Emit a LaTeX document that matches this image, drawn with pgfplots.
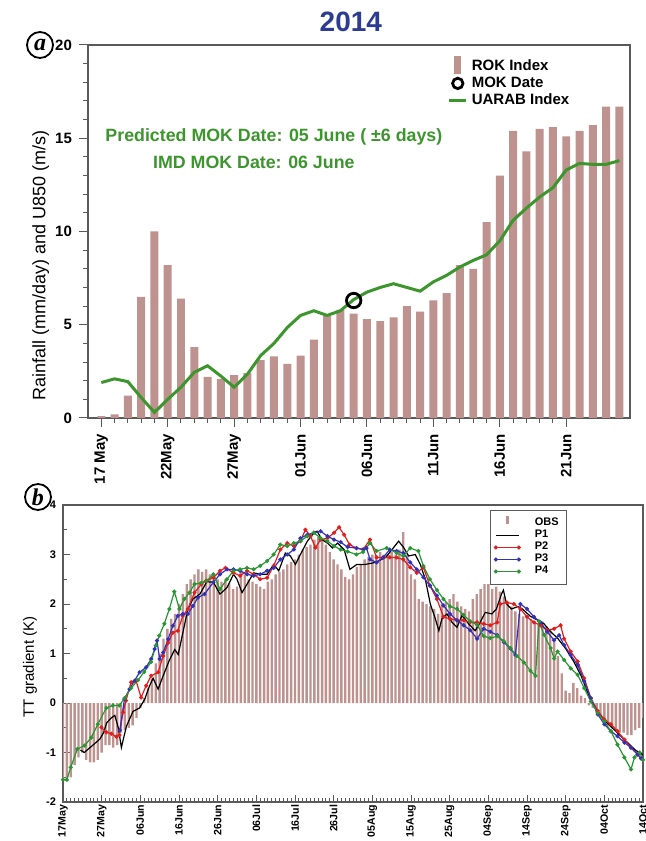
\documentclass[border=0pt]{standalone}
\usepackage{pgfplots}
\pgfplotsset{compat=1.18}
\usepackage{fontspec}
\setmainfont{Liberation Sans}
\newfontfamily\serifit{Liberation Serif}
\definecolor{barc}{RGB}{190,146,142}
\definecolor{gline}{RGB}{60,150,45}
\definecolor{tblue}{RGB}{45,60,145}
\definecolor{p2c}{RGB}{225,30,30}
\definecolor{p3c}{RGB}{50,50,185}
\definecolor{p4c}{RGB}{40,150,50}
\definecolor{framec}{RGB}{90,90,90}
\begin{document}
\begin{tikzpicture}
\useasboundingbox (0,0) rectangle (323pt,420.5pt);
% ---------------- panel a ----------------
\begin{axis}[
 at={(44pt,211.5pt)}, anchor=south west, scale only axis, width=271pt, height=186.5pt,
 xmin=-1, xmax=39.8, ymin=0, ymax=20, clip=false,
 axis line style={framec, line width=0.6pt},
 tick align=outside, xtick pos=bottom, ytick pos=left,
 xtick={0,5,...,35}, xticklabels={17 May,22May,27May,01Jun,06Jun,11Jun,16Jun,21Jun},
 minor x tick num=4,
 ytick={0,5,10,15,20}, minor y tick num=4,
 major tick length=4.5pt, minor tick length=2.5pt,
 every tick/.style={framec, line width=0.5pt},
 x tick label style={rotate=90, anchor=east, font=\bfseries\fontsize{7.5}{8}\selectfont},
 y tick label style={font=\bfseries\fontsize{7.5}{8}\selectfont},
 /pgf/number format/assume math mode=true,
 ylabel={Rainfall (mm/day) and U850 (m/s)},
 ylabel style={at={(axis description cs:-0.087,0.41)}, anchor=center, font=\fontsize{9}{10}\selectfont},
 legend style={draw=none, fill=none, at={(rel axis cs:0.652,0.983)}, anchor=north west, font=\bfseries\fontsize{7.5}{8.5}\selectfont, row sep=-2.5pt},
 legend cell align=left,
]
\addplot[ybar, bar width=0.6, fill=barc, draw=none,
 legend image code/.code={\fill[barc] (2.5pt,-3.5pt) rectangle (6pt,5.5pt);}]
 coordinates {(0,0.1) (1,0.2) (2,1.2) (3,6.5) (4,10.0) (5,8.2) (6,6.4) (7,3.8) (8,2.2) (9,2.1)
 (10,2.3) (11,2.4) (12,3.1) (13,3.3) (14,2.9) (15,3.35) (16,4.2) (17,5.5) (18,5.8) (19,5.6)
 (20,5.3) (21,5.2) (22,5.4) (23,6.0) (24,5.7) (25,6.3) (26,6.7) (27,8.2) (28,8.0) (29,10.5)
 (30,13.0) (31,15.4) (32,14.3) (33,15.5) (34,15.6) (35,15.1) (36,15.4) (37,15.7) (38,16.7) (39,16.7)};
\addlegendentry{ROK Index}
\addplot[gline, line width=1.5pt, forget plot]
 coordinates {(0,1.9) (1,2.1) (2,1.95) (3,1.1) (4,0.3) (5,1.0) (6,1.65) (7,2.45) (8,2.8) (9,2.25)
 (10,1.65) (11,2.35) (12,3.35) (13,4.0) (14,4.85) (15,5.5) (16,5.75) (17,5.5) (18,5.75) (19,6.35)
 (20,6.75) (21,7.0) (22,7.2) (23,7.0) (24,6.8) (25,7.3) (26,7.65) (27,8.1) (28,8.45) (29,8.75)
 (30,9.5) (31,10.6) (32,11.25) (33,11.85) (34,12.35) (35,13.3) (36,13.65) (37,13.6) (38,13.6) (39,13.8)};
\addplot[only marks, mark=o, mark size=3.6pt, line width=1.4pt, black,
 legend image code/.code={\draw[black, line width=1.4pt] (4.25pt,0pt) circle (2.6pt);}]
 coordinates {(19,6.3)};
\addlegendentry{MOK Date}
\addlegendimage{gline, line width=1.5pt, legend image code/.code={\draw[gline, line width=1.5pt] (0pt,0pt) -- (8.5pt,0pt);}}
\addlegendentry{UARAB Index}
\node[text=gline, font=\bfseries\fontsize{8.9}{10}\selectfont] at (rel axis cs:0.343,0.753) {Predicted MOK Date: 05 June ( ±6 days)};
\node[text=gline, font=\bfseries\fontsize{8.9}{10}\selectfont] at (rel axis cs:0.306,0.686) {IMD MOK Date: 06 June};
\node[text=tblue, font=\bfseries\fontsize{14}{16}\selectfont, yshift=11.5pt] at (rel axis cs:0.485,1) {2014};
\end{axis}
% ---------------- panel b ----------------
\begin{axis}[
 at={(31.5pt,19.5pt)}, anchor=south west, scale only axis, width=290pt, height=148.5pt,
 xmin=0, xmax=150, ymin=-2, ymax=4,
 axis line style={framec, line width=0.6pt},
 tick align=inside, xtick pos=bottom, ytick pos=left,
 xtick={0,10,...,150},
 xticklabels={17May,27May,06Jun,16Jun,26Jun,06Jul,16Jul,26Jul,05Aug,15Aug,25Aug,04Sep,14Sep,24Sep,04Oct,14Oct},
 minor x tick num=9,
 ytick={-2,-1,0,1,2,3,4}, minor y tick num=1,
 major tick length=3.5pt, minor tick length=2pt,
 every tick/.style={framec, line width=0.45pt},
 x tick label style={rotate=90, anchor=east, inner sep=1.2pt, font=\bfseries\fontsize{5.3}{6}\selectfont},
 y tick label style={font=\bfseries\fontsize{5.5}{6}\selectfont},
 /pgf/number format/assume math mode=true,
 ylabel={TT gradient (K)},
 ylabel style={at={(axis description cs:-0.057,0.455)}, anchor=center, font=\fontsize{7.5}{8}\selectfont},
 legend style={draw=framec, fill=white, at={(rel axis cs:0.736,0.983)}, anchor=north west, font=\bfseries\fontsize{5.5}{5.8}\selectfont, row sep=-3.3pt, inner sep=1.8pt,
   /tikz/every odd column/.append style={column sep=5pt}},
 legend cell align=left,
]
\addplot[ybar, bar width=0.62, fill=barc, draw=none,
 legend image code/.code={\fill[barc] (5pt,-0.5pt) rectangle (6.5pt,3.5pt);}]
 coordinates {(0,-1.55) (1,-1.55) (2,-1.5) (3,-1.25) (4,-1.1) (5,-1.0) (6,-1.15) (7,-1.2) (8,-1.2) (9,-1.15)
 (10,-1.0) (11,-0.85) (12,-0.85) (13,-0.9) (14,-0.85) (15,-0.6) (16,-0.55) (17,-0.5) (18,-0.45) (19,-0.3)
 (20,-0.1) (21,0.1) (22,0.3) (23,0.5) (24,0.8) (25,1.0) (26,1.3) (27,1.5) (28,1.7) (29,1.8)
 (30,2.0) (31,2.2) (32,2.4) (33,2.5) (34,2.6) (35,2.7) (36,2.65) (37,2.7) (38,2.6) (39,2.55)
 (40,2.5) (41,2.45) (42,2.5) (43,2.4) (44,2.3) (45,2.35) (46,2.7) (47,2.6) (48,2.5) (49,2.45)
 (50,2.4) (51,2.35) (52,2.3) (53,2.45) (54,2.5) (55,2.6) (56,2.65) (57,2.7) (58,2.8) (59,2.85)
 (60,2.9) (61,3.0) (62,3.1) (63,3.15) (64,3.2) (65,3.3) (66,3.35) (67,3.3) (68,3.2) (69,3.05)
 (70,2.9) (71,2.8) (72,2.7) (73,2.55) (74,2.5) (75,2.6) (76,2.75) (77,2.8) (78,2.9) (79,2.95)
 (80,3.0) (81,3.0) (82,3.05) (83,3.0) (84,3.0) (85,3.05) (86,3.0) (87,3.1) (88,3.45) (89,3.0)
 (90,2.6) (91,2.5) (92,2.1) (93,2.05) (94,2.0) (95,1.95) (96,1.9) (97,1.8) (98,2.0) (99,2.05)
 (100,2.1) (101,2.2) (102,2.05) (103,1.95) (104,1.9) (105,1.85) (106,2.1) (107,2.2) (108,2.3) (109,2.4)
 (110,2.4) (111,2.3) (112,2.35) (113,2.25) (114,2.15) (115,2.05) (116,1.95) (117,1.85) (118,1.8) (119,1.75)
 (120,1.7) (121,1.7) (122,1.65) (123,1.6) (124,1.65) (125,1.55) (126,1.5) (127,1.3) (128,0.95) (129,0.6)
 (130,0.25) (131,0.2) (132,0.4) (133,0.3) (134,0.15) (135,0.1) (136,-0.05) (137,-0.1) (138,-0.2) (139,-0.25)
 (140,-0.35) (141,-0.45) (142,-0.5) (143,-0.55) (144,-0.6) (145,-0.6) (146,-0.65) (147,-0.65) (148,-0.55) (149,-0.5)
 (150,-0.3)};
\addlegendentry{OBS}
\addplot[black, line width=0.6pt, mark=none,
 legend image code/.code={\draw[black, line width=0.6pt] (0pt,0pt) -- (11.5pt,0pt);}]
 coordinates {(4.5,-0.95) (5.5,-1.0) (7,-0.9) (8.5,-0.8) (9.5,-0.73) (10.5,-0.6) (11.3,-0.4) (12.5,-0.3) (13.4,-0.25) (14.3,-0.5)
 (15.1,-0.9) (16.4,-0.47) (18.1,-0.17) (19.8,-0.1) (21.1,0.07) (22.4,0.35) (23.3,0.5) (24.6,0.28) (25.9,0.55) (27.6,0.88)
 (28.9,1.08) (29.8,0.98) (31,1.42) (32.3,1.9) (33.6,2.1) (35.4,2.2) (37.2,2.45) (38.9,2.44) (40.6,2.2) (42.4,2.33)
 (44.1,2.6) (45,2.5) (46.3,2.23) (47.6,2.4) (49.3,2.63) (51,2.6) (52.8,2.6) (54.5,2.8) (55.8,2.67) (57.5,3.03)
 (58.8,2.97) (60.1,2.8) (61.4,3.0) (63.2,3.27) (64.9,3.44) (65.7,3.47) (67,3.3) (68.4,3.23) (69.7,3.13) (71,3.23)
 (72.7,3.1) (74.2,2.7) (76,2.8) (78.2,2.8) (80.8,2.84) (83.4,2.94) (85.1,3.1) (86.8,3.27) (88.1,3.14) (89.4,2.97)
 (91.1,3.0) (92.4,2.8) (93.7,2.5) (95,2.0) (96.3,1.7) (97.2,1.46) (98,1.7) (99.3,1.8) (100.6,1.63) (101.9,1.53)
 (103.2,1.77) (104.9,1.6) (106.6,1.46) (107.9,1.63) (109.2,1.83) (110.9,1.8) (112.1,1.9) (113.4,2.2) (113.9,2.28) (114.7,2.0)
 (116,1.9) (117.7,1.95) (118.8,1.9) (120.9,1.75) (122.6,1.68) (124.4,1.6) (126,1.45) (128,1.3) (130,1.1) (132,0.85)
 (134,0.55) (136,0.15) (138,-0.15) (140,-0.35) (142,-0.5) (144,-0.65) (146,-0.8) (148,-0.95) (150,-1.05)};
\addlegendentry{P1}
\addplot[p2c, line width=0.6pt, mark=*, mark size=0.7pt,
 legend image code/.code={\draw[p2c, line width=0.6pt] (0pt,0pt) -- (11.5pt,0pt); \fill[p2c] (0pt,0pt) circle (0.7pt); \fill[p2c] (11.5pt,0pt) circle (0.7pt);}]
 coordinates {(9.9,-0.49) (11.2,-0.59) (12.5,-0.62) (13.8,-0.68) (14.6,-0.65) (15.5,-0.19) (16.3,0.05) (17.6,0.42) (18.9,0.45) (20.2,0.11)
 (21.5,0.35) (22.8,0.55) (24.6,0.62) (25.9,0.95) (27.2,1.22) (28.4,1.42) (29.7,1.46) (31,1.76) (32.3,1.9) (34,2.23)
 (35.8,2.4) (37,2.47) (38.9,2.53) (40.6,2.67) (42,2.73) (44.1,2.63) (45.8,2.57) (47.6,2.67) (49.3,2.6) (51,2.5)
 (52.8,2.53) (54.5,2.77) (56.2,3.1) (58,3.23) (59.7,3.17) (61.4,3.27) (62.7,3.5) (64,3.37) (65.3,3.14) (66.6,3.3)
 (68.4,3.33) (70.1,3.44) (71.4,3.55) (72.7,3.4) (74.1,3.2) (75.9,3.13) (77.6,3.1) (79.4,3.3) (81.1,2.94) (82.8,2.94)
 (84.5,2.94) (86.3,2.94) (88,2.9) (89.8,2.74) (91.5,2.63) (93.2,2.74) (94.9,2.37) (96.7,2.1) (98.4,1.74) (100.1,1.7)
 (101.9,1.67) (103.6,1.67) (105.3,1.63) (107.1,1.63) (108.8,1.6) (110.5,1.57) (112.3,1.63) (113.1,2.0) (114.8,2.03) (116.6,2.0)
 (118.3,1.9) (120,1.74) (121.8,1.63) (123.5,1.57) (125.2,1.47) (127,1.5) (128.7,1.57) (129.6,1.3) (131.3,1.04) (133.1,0.84)
 (134.8,0.5) (136.5,0.1) (138.3,-0.16) (140,-0.33) (141.7,-0.43) (143.4,-0.57) (145.2,-0.74) (146.9,-0.9) (148.6,-1.04) (149.5,-1.12)};
\addlegendentry{P2}
\addplot[p3c, line width=0.6pt, mark=*, mark size=0.7pt,
 legend image code/.code={\draw[p3c, line width=0.6pt] (0pt,0pt) -- (11.5pt,0pt); \fill[p3c] (0pt,0pt) circle (0.7pt); \fill[p3c] (11.5pt,0pt) circle (0.7pt);}]
 coordinates {(14.7,-0.55) (15.9,0.08) (17.2,0.28) (18.5,0.45) (19.8,0.62) (21.5,0.72) (22.8,0.89) (23.7,1.09) (24.3,1.26) (25,0.89)
 (25.9,1.02) (27.2,1.29) (28.4,1.56) (29.7,1.76) (31,1.8) (32.3,1.8) (33.6,1.96) (34.9,2.13) (36.6,2.2) (38.9,2.44)
 (40.6,2.6) (42.4,2.7) (44.1,2.7) (45.8,2.67) (47.6,2.6) (49.3,2.57) (51,2.6) (52.8,2.67) (54.5,2.73) (56.2,2.9)
 (58,3.0) (59.7,3.1) (61.4,3.33) (63.2,3.4) (64.9,3.44) (66.6,3.47) (68.4,3.37) (70.1,3.3) (71.8,3.25) (73.6,3.15)
 (75.9,3.13) (77.6,3.1) (78.5,3.13) (79.4,2.9) (81.1,2.84) (82.8,2.94) (84.5,3.1) (86.3,3.07) (88,3.03) (89.8,2.84)
 (91.5,2.7) (93.2,2.54) (94.9,2.37) (96.7,2.17) (98.4,1.97) (100.1,1.8) (101.9,1.67) (103.6,1.57) (105.3,1.47) (107.1,1.3)
 (108.8,1.5) (110.5,1.44) (112.3,1.37) (114,1.23) (115.7,1.1) (117,0.97) (118.3,2.0) (120,1.9) (121.8,1.74) (123.5,1.63)
 (125.2,1.44) (127,1.27) (128.3,1.37) (129.6,1.17) (131.3,0.97) (133.1,0.77) (134.8,0.44) (136.5,0.1) (138.3,-0.23) (140,-0.43)
 (141.7,-0.57) (143.4,-0.67) (145.2,-0.8) (146.9,-0.9) (148.6,-1.04) (149.5,-1.12)};
\addlegendentry{P3}
\addplot[p4c, line width=0.6pt, mark=*, mark size=0.7pt,
 legend image code/.code={\draw[p4c, line width=0.6pt] (0pt,0pt) -- (11.5pt,0pt); \fill[p4c] (0pt,0pt) circle (0.7pt); \fill[p4c] (11.5pt,0pt) circle (0.7pt);}]
 coordinates {(0,-1.55) (1,-1.55) (2,-1.3) (3.7,-0.93) (5.6,-0.86) (7.3,-0.7) (9,-0.43) (11.2,-0.1) (12.9,-0.05) (14.6,-0.05)
 (15.9,0.1) (17.6,0.3) (19.4,0.46) (21,0.63) (22.8,0.83) (24,1.16) (24.9,1.36) (26.2,1.6) (27.5,1.9) (28.8,2.25)
 (30.1,1.9) (31.4,2.1) (32.7,2.23) (34,2.4) (35.8,2.43) (37.2,2.47) (38.9,2.6) (40.6,2.3) (42.4,2.5) (44.1,2.67)
 (45.8,2.7) (47.6,2.73) (49.3,2.7) (51,2.77) (52.8,2.87) (54.5,3.0) (56.2,3.2) (58,3.17) (59.7,3.23) (61.4,3.27)
 (63.2,3.37) (64.9,3.44) (66.6,3.33) (68.4,3.27) (70.1,3.17) (71.8,3.1) (73.6,3.06) (75.9,3.0) (77.6,3.05) (79.4,3.23)
 (81.1,3.07) (83.7,3.13) (86.3,3.03) (88,2.97) (89.8,3.13) (91.9,3.07) (93.2,2.77) (94.9,2.5) (96.7,2.28) (98.4,2.1)
 (100.1,1.95) (101.9,1.9) (103.6,1.78) (105.3,1.65) (107.1,1.58) (108.8,1.35) (110.5,1.31) (112.3,1.35) (114,1.25) (115.7,1.11)
 (117.4,0.95) (119.2,0.82) (120.9,0.65) (122.2,0.55) (123.1,1.65) (124.4,1.38) (126.1,1.11) (127,0.9) (127.9,1.04) (129.6,0.87)
 (131.3,0.7) (133.1,0.57) (134.8,0.3) (136.5,0.03) (138.3,-0.2) (140,-0.37) (141.7,-0.57) (143.4,-0.84) (145.2,-1.1) (146.9,-1.34)
 (147.8,-1.1) (149.1,-1.0) (150,-1.15)};
\addlegendentry{P4}
\end{axis}
% panel labels
\node[draw, circle, line width=0.9pt, inner sep=0.5pt, minimum size=13pt, font=\serifit\bfseries\itshape\fontsize{12}{12}\selectfont] at (20pt,398pt) {a};
\node[draw, circle, line width=0.9pt, inner sep=0.5pt, minimum size=13pt, font=\serifit\bfseries\itshape\fontsize{12}{12}\selectfont] at (19pt,172pt) {b};
\end{tikzpicture}
\end{document}
